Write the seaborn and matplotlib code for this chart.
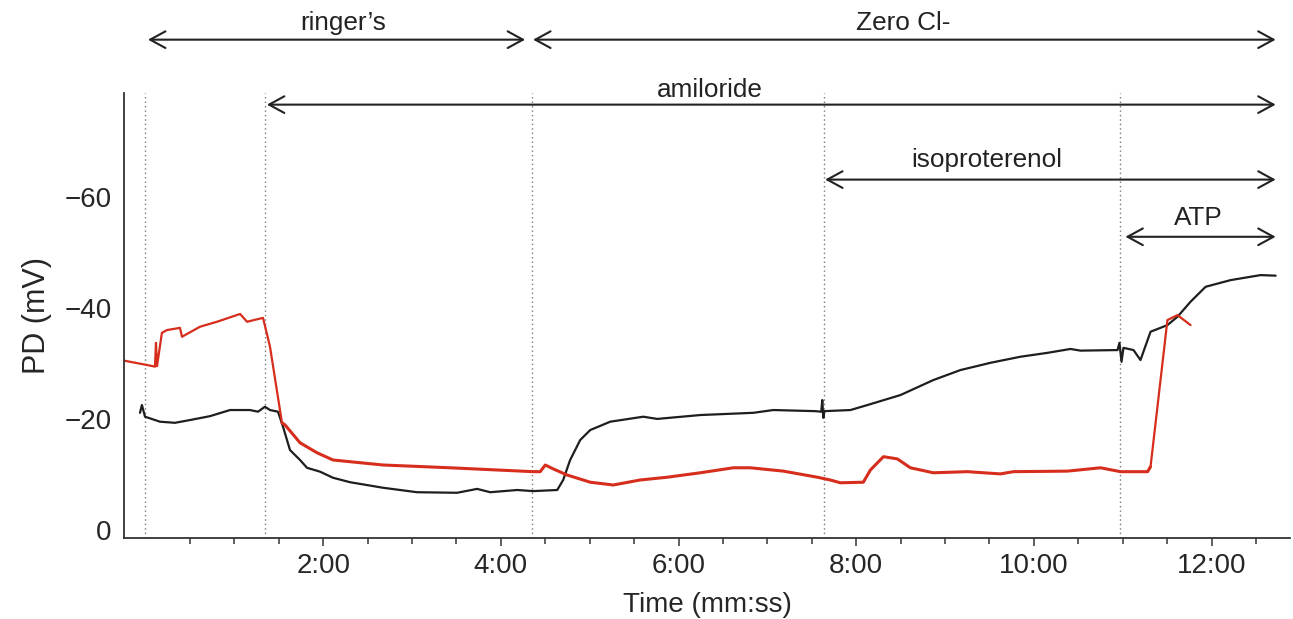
import numpy as np
import pandas as pd
import seaborn as sns
import matplotlib.pyplot as plt
from matplotlib.ticker import FixedLocator, FuncFormatter

# time in seconds, PD in mV
black_t = [-3.7, -2.4, -0.3, 9.8, 19.9, 30.1, 43.6, 57.1, 70.6, 76.0, 80.7, 84.1, 89.5,
           92.9, 97.6, 104.4, 109.1, 117.9, 126.7, 138.2, 160.5, 183.4, 210.5, 224.0,
           232.8, 251.1, 261.8, 278.1, 282.1, 286.8, 293.6, 300.4, 313.9, 336.2, 345.6,
           374.7, 410.5, 424.0, 452.4, 456.4, 457.1, 457.8, 458.5, 476.1, 487.6, 509.9,
           532.1, 550.4, 570.6, 590.9, 609.2, 624.7, 631.5, 656.5, 657.8, 659.2, 660.5,
           667.3, 672.0, 678.8, 690.2, 697.0, 705.8, 716.0, 732.9, 753.1, 763.3]
black_pd = [-21.1, -22.5, -20.4, -19.5, -19.3, -19.8, -20.5, -21.6, -21.6, -21.3, -22.2, -21.6, -21.3,
            -18.6, -14.4, -12.6, -11.2, -10.5, -9.4, -8.6, -7.6, -6.8, -6.7, -7.4,
            -6.8, -7.2, -7.0, -7.2, -9.0, -12.6, -16.2, -18.0, -19.5, -20.4, -20.0,
            -20.7, -21.1, -21.6, -21.4, -21.3, -23.4, -20.2, -21.4, -21.6, -22.5, -24.3,
            -27.0, -28.8, -30.1, -31.2, -31.9, -32.6, -32.3, -32.4, -33.7, -30.3, -32.8,
            -32.4, -30.6, -35.7, -36.9, -38.4, -41.1, -43.8, -45.0, -45.9, -45.8]

red_t = [-14.5, 5.1, 6.4, 7.1, 7.8, 11.1, 14.5, 23.3, 24.7, 36.8, 48.3, 63.9, 68.6, 79.4,
         84.1, 92.2, 94.3, 104.4, 115.9, 126.7, 160.5, 205.8, 261.8, 266.6, 270.0, 275.4,
         284.8, 300.4, 315.9, 334.1, 352.4, 374.7, 397.0, 408.5, 430.8, 453.8, 462.5,
         469.3, 484.8, 489.6, 498.4, 507.8, 516.6, 532.1, 555.1, 577.4, 586.2, 622.7,
         645.0, 658.5, 676.8, 678.8, 690.2, 697.0, 705.8]
red_pd = [-30.5, -29.5, -29.4, -33.7, -29.5, -35.5, -36.0, -36.4, -34.8, -36.6, -37.5, -38.9, -37.5, -38.2,
          -33.0, -19.3, -18.9, -15.7, -13.9, -12.6, -11.7, -11.2, -10.5, -10.5, -11.7, -11.0,
          -9.9, -8.6, -8.1, -9.0, -9.5, -10.3, -11.2, -11.2, -10.6, -9.5, -9.0,
          -8.5, -8.6, -10.8, -13.2, -12.8, -11.2, -10.3, -10.5, -10.1, -10.5, -10.6,
          -11.2, -10.5, -10.5, -11.4, -37.8, -38.7, -36.9]

# treatment switch times (s)
event_times = [0, 81, 261, 458, 658]

# bracket labels over the trace
bracket_labels = ["ringer\u2019s", "Zero Cl-", "amiloride", "isoproterenol", "ATP"]
bracket_start = [1.7, 261.8, 82.0, 459.0, 661.8]
bracket_end = [256.4, 763.3, 763.3, 763.3, 763.3]
bracket_y = [-88.3, -88.3, -76.6, -63.1, -52.8]
text_x = [133.5, 511.8, 381.4, 568.0, 711.0]
text_y = [-90.1, -90.1, -78.0, -65.4, -55.0]

sns.set_style('ticks')
plt.rcParams['font.family'] = ['Liberation Sans', 'DejaVu Sans']

fig = plt.figure(figsize=(12.93, 6.19), dpi=100)
ax = fig.add_axes([0.0959, 0.1309, 0.9018, 0.7189])

df_black = pd.DataFrame({'t': black_t, 'pd': black_pd})
df_red = pd.DataFrame({'t': red_t, 'pd': red_pd})
red_col = '#d62d1c'
sns.lineplot(data=df_black, x='t', y='pd', color='#1e1e1e', lw=1.6, sort=False, ax=ax)
sns.lineplot(data=df_red[df_red.t <= 94.3], x='t', y='pd', color=red_col, lw=1.6, sort=False, ax=ax)
# noisy part of the red trace looks like a thicker band
sns.lineplot(data=df_red[(df_red.t >= 92.2) & (df_red.t <= 678.8)], x='t', y='pd', color=red_col,
             lw=2.2, sort=False, ax=ax)
sns.lineplot(data=df_red[df_red.t >= 676.8], x='t', y='pd', color=red_col, lw=1.6, sort=False, ax=ax)

for t in event_times:
    ax.axvline(t, color='#777777', ls=(0, (1, 2.2)), lw=1.0, zorder=0)

ax.set_xlim(-14.5, 773)
ax.set_ylim(1.44, -78.7)

ax.xaxis.set_major_locator(FixedLocator([120, 240, 360, 480, 600, 720]))
ax.xaxis.set_minor_locator(FixedLocator(list(range(30, 780, 30))))
ax.xaxis.set_major_formatter(FuncFormatter(lambda v, p: f"{int(v // 60)}:{int(v % 60):02d}"))
ax.set_yticks([0, -20, -40, -60])
ax.set_yticklabels(['0', '\u221220', '\u221240', '\u221260'])

ax.tick_params(axis='x', which='major', length=6, width=1.2, color='#444444', labelsize=20, pad=5)
ax.tick_params(axis='x', which='minor', length=4, width=1.2, color='#444444')
ax.tick_params(axis='y', length=0, labelsize=20, pad=9)

for s in ['top', 'right']:
    ax.spines[s].set_visible(False)
for s in ['left', 'bottom']:
    ax.spines[s].set_color('#333333')
    ax.spines[s].set_linewidth(1.3)

ax.set_xlabel('Time (mm:ss)', fontsize=20, labelpad=9)
ax.set_ylabel('PD (mV)', fontsize=22, labelpad=9)

for lab, a, b, yy, tx, ty in zip(bracket_labels, bracket_start, bracket_end, bracket_y, text_x, text_y):
    ax.annotate('', xy=(b, yy), xytext=(a, yy),
                arrowprops=dict(arrowstyle='<->,head_length=1.1,head_width=0.6',
                                color='#222222', lw=1.5, shrinkA=0, shrinkB=0),
                annotation_clip=False)
    ax.text(tx, ty, lab, ha='center', va='baseline', fontsize=18.8, color='#222222', clip_on=False)

fig.savefig('out.png', dpi=100)
